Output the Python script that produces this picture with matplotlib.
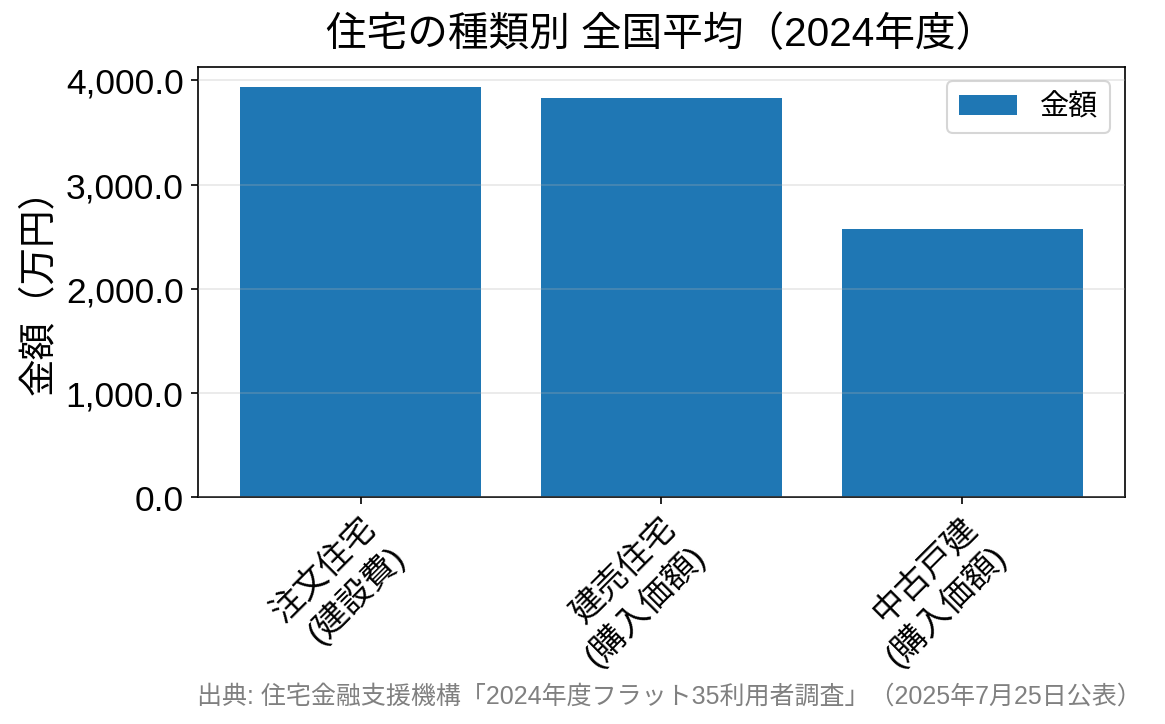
import matplotlib
matplotlib.use("Agg")
import matplotlib.pyplot as plt
from matplotlib.ticker import StrMethodFormatter

plt.rcParams['font.family'] = ['Liberation Sans', 'Noto Sans CJK JP']

categories = ['注文住宅\n(建設費)', '建売住宅\n(購入価額)', '中古戸建\n(購入価額)']
values = [3932, 3826, 2571]

fig, ax = plt.subplots(figsize=(7.77, 4.83), dpi=150)
ax.bar(categories, values, color='#1f77b4', label='金額')
ax.set_title('住宅の種類別 全国平均（2024年度）', fontsize=19.5, pad=10)
ax.set_ylabel('金額（万円）', fontsize=18)
ax.yaxis.set_major_formatter(StrMethodFormatter('{x:,.1f}'))
ax.tick_params(axis='y', labelsize=17)
ax.tick_params(axis='x', labelsize=16)
plt.setp(ax.get_xticklabels(), rotation=45, ha='right', rotation_mode='anchor')
ax.grid(axis='y', alpha=0.3)
ax.set_axisbelow(False)
ax.legend(fontsize=14, loc='upper right')

fig.text(0.98, 0.022, '出典: 住宅金融支援機構「2024年度フラット35利用者調査」（2025年7月25日公表）',
         ha='right', va='bottom', fontsize=12, color='gray')
fig.subplots_adjust(left=0.17, right=0.965, top=0.907, bottom=0.313)
fig.savefig('out.png', dpi=150)
